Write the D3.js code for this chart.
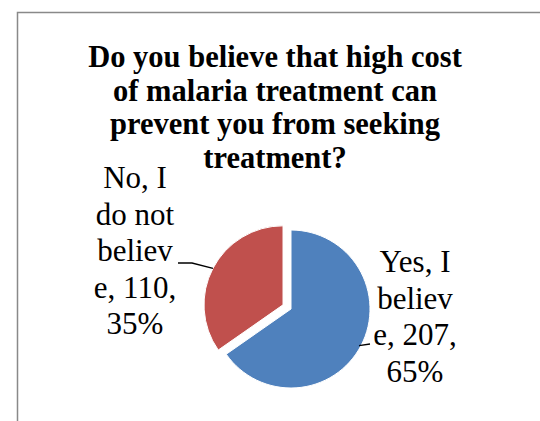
<!DOCTYPE html>
<html>
<head>
<meta charset="utf-8">
<script src="https://cdn.jsdelivr.net/npm/d3@7"></script>
<style>
  body { margin: 0; background: #fff; }
  text { font-family: "Liberation Serif", "Times New Roman", serif; }
</style>
</head>
<body>
<div id="chart"></div>
<script>
const categories = ["Yes, I believe", "No, I do not believe"];
const counts = [207, 110];
const percents = ["65%", "35%"];
const labelLines = [
  ["Yes, I", "believ", "e, 207,", "65%"],
  ["No, I", "do not", "believ", "e, 110,", "35%"]
];
const titleLines = [
  "Do you believe that high cost",
  "of malaria treatment can",
  "prevent you from seeking",
  "treatment?"
];

const width = 540;
const height = 421;
const cx = 291, cy = 309, radius = 79;
const explode = 9;

const svg = d3.select("#chart")
  .append("svg")
  .attr("width", width)
  .attr("height", height);

// chart area border (only top and left visible in the crop)
svg.append("path")
  .attr("d", `M17.5,${height} V12.5 H${width}`)
  .attr("fill", "none")
  .attr("stroke", "#898989")
  .attr("stroke-width", 1.5);

const color = d3.scaleOrdinal()
  .domain(categories)
  .range(["#4F81BD", "#C0504D"]);

const pie = d3.pie()
  .value(d => d.count)
  .sort(null);

const data = categories.map((c, i) => ({ name: c, count: counts[i], lines: labelLines[i] }));
const arcs = pie(data);

const arc = d3.arc().innerRadius(0).outerRadius(radius);

const g = svg.append("g")
  .attr("transform", `translate(${cx},${cy})`);

function offsetOf(d, i) {
  if (i !== 1) return [0, 0];
  const a = (d.startAngle + d.endAngle) / 2;
  return [Math.sin(a) * explode, -Math.cos(a) * explode];
}

g.selectAll("path.slice")
  .data(arcs)
  .enter().append("path")
  .attr("class", "slice")
  .attr("transform", (d, i) => `translate(${offsetOf(d, i)})`)
  .attr("d", arc)
  .attr("fill", d => color(d.data.name))
  .attr("stroke", "white")
  .attr("stroke-width", 1);

// title
svg.append("text")
  .attr("text-anchor", "middle")
  .style("font-weight", "bold")
  .style("font-size", "30.5px")
  .selectAll("tspan")
  .data(titleLines)
  .enter().append("tspan")
  .attr("x", 275)
  .attr("y", (d, i) => 67 + i * 33.7)
  .text(d => d);

// data labels
const labelPos = [
  { x: 415, y: 272 },
  { x: 135, y: 188 }
];
const lineH = 36.5;

arcs.forEach((d, i) => {
  svg.append("text")
    .attr("text-anchor", "middle")
    .style("font-size", "31px")
    .selectAll("tspan")
    .data(d.data.lines)
    .enter().append("tspan")
    .attr("x", labelPos[i].x)
    .attr("y", (t, j) => labelPos[i].y + j * lineH)
    .text(t => t);
});

// leader lines
const leaders = arcs.map((d, i) => {
  const a = (d.startAngle + d.endAngle) / 2;
  const off = offsetOf(d, i);
  const edge = [cx + off[0] + Math.sin(a) * radius, cy + off[1] - Math.cos(a) * radius];
  if (i === 0) {
    return [[edge[0] - 2, edge[1]], [370, 344]];
  }
  return [edge, [192, 263], [178, 263]];
});

svg.selectAll("path.leader")
  .data(leaders)
  .enter().append("path")
  .attr("class", "leader")
  .attr("d", d3.line())
  .attr("fill", "none")
  .attr("stroke", "black")
  .attr("stroke-width", 1.3);
</script>
</body>
</html>
